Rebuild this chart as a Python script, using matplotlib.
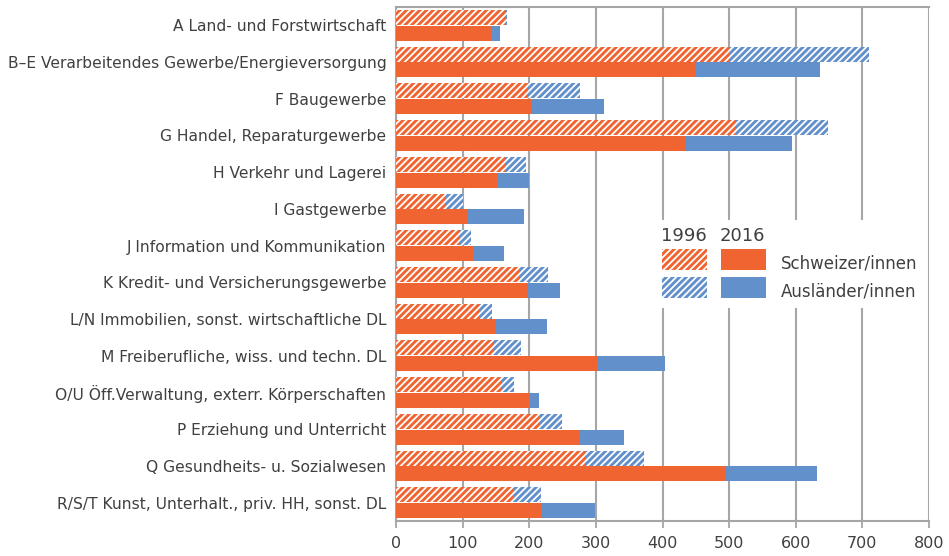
import numpy as np
import matplotlib
matplotlib.use("Agg")
import matplotlib.pyplot as plt
from matplotlib.patches import Rectangle

categories = [
    "A Land- und Forstwirtschaft",
    "B–E Verarbeitendes Gewerbe/Energieversorgung",
    "F Baugewerbe",
    "G Handel, Reparaturgewerbe",
    "H Verkehr und Lagerei",
    "I Gastgewerbe",
    "J Information und Kommunikation",
    "K Kredit- und Versicherungsgewerbe",
    "L/N Immobilien, sonst. wirtschaftliche DL",
    "M Freiberufliche, wiss. und techn. DL",
    "O/U Öff.Verwaltung, exterr. Körperschaften",
    "P Erziehung und Unterricht",
    "Q Gesundheits- u. Sozialwesen",
    "R/S/T Kunst, Unterhalt., priv. HH, sonst. DL",
]
ch_1996 = [164, 502, 197, 509, 164, 74, 94, 185, 124, 146, 157, 215, 284, 175]
aus_1996 = [3, 208, 79, 140, 31, 26, 18, 43, 20, 42, 20, 34, 88, 43]
ch_2016 = [143, 451, 203, 436, 151, 106, 115, 196, 150, 301, 199, 276, 496, 217]
aus_2016 = [13, 185, 109, 159, 49, 86, 47, 50, 77, 103, 16, 66, 136, 82]
xticks = [0, 100, 200, 300, 400, 500, 600, 700, 800]

orange = "#F06432"
blue = "#6290CA"
grid_c = "#A6A6A6"
txt_c = "#404040"

plt.rcParams["font.family"] = "DejaVu Sans"
plt.rcParams["hatch.linewidth"] = 1.3
hatch = "/" * 5

W, H = 949, 556
fig = plt.figure(figsize=(W / 100, H / 100), dpi=100)
ax = fig.add_axes([396 / W, 1 - 521 / H, 533 / W, 514 / H])

y = np.arange(len(categories))
bh = 0.41
off = 0.215
ax.barh(y - off, ch_1996, height=bh, color=orange, edgecolor="white", linewidth=0, hatch=hatch, zorder=3)
ax.barh(y - off, aus_1996, left=ch_1996, height=bh, color=blue, edgecolor="white", linewidth=0, hatch=hatch, zorder=3)
ax.barh(y + off, ch_2016, height=bh, color=orange, linewidth=0, zorder=3)
ax.barh(y + off, aus_2016, left=ch_2016, height=bh, color=blue, linewidth=0, zorder=3)

ax.set_ylim(len(categories) - 0.5, -0.5)
ax.set_xlim(0, 800)
ax.set_xticks(xticks)
ax.set_yticks(y)
ax.set_yticklabels(categories)
ax.tick_params(axis="y", length=0, pad=7, labelsize=11.2, labelcolor=txt_c)
ax.tick_params(axis="x", length=5, width=1.3, color=grid_c, pad=6, labelsize=11.5, labelcolor=txt_c)
ax.grid(axis="x", color=grid_c, linewidth=1.5, zorder=0)
ax.set_axisbelow(True)
for s in ["left", "bottom", "top"]:
    ax.spines[s].set_color(grid_c)
    ax.spines[s].set_linewidth(1.5)
ax.spines["right"].set_visible(False)

# legend drawn by hand (pixel layout)
lx0, ly0, lw, lh = 650, 220, 272, 88
leg = fig.add_axes([lx0 / W, 1 - (ly0 + lh) / H, lw / W, lh / H])
leg.set_xlim(lx0, lx0 + lw)
leg.set_ylim(ly0 + lh, ly0)
leg.set_xticks([])
leg.set_yticks([])
for s in leg.spines.values():
    s.set_visible(False)
leg.set_facecolor("white")

leg.text(661, 236, "1996", fontsize=13, color=txt_c, va="center", ha="left")
leg.text(720, 236, "2016", fontsize=13, color=txt_c, va="center", ha="left")
leg.add_patch(Rectangle((662, 249), 45, 21, facecolor=orange, edgecolor="white", linewidth=0, hatch=hatch))
leg.add_patch(Rectangle((662, 277), 45, 21, facecolor=blue, edgecolor="white", linewidth=0, hatch=hatch))
leg.add_patch(Rectangle((721, 249), 45, 21, facecolor=orange, linewidth=0))
leg.add_patch(Rectangle((721, 277), 45, 21, facecolor=blue, linewidth=0))
leg.text(781, 263, "Schweizer/innen", fontsize=12, color=txt_c, va="center", ha="left")
leg.text(781, 291, "Ausländer/innen", fontsize=12, color=txt_c, va="center", ha="left")

fig.savefig("out.png", dpi=100)
